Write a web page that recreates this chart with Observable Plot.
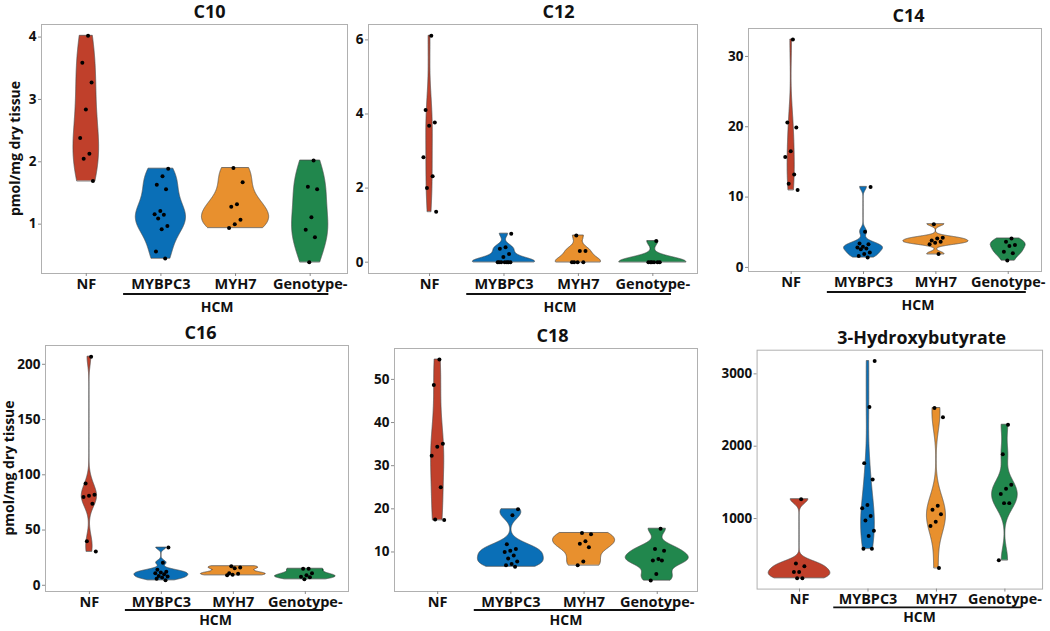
<!DOCTYPE html>
<html>
<head>
<meta charset="utf-8">
<script src="https://cdn.jsdelivr.net/npm/d3@7"></script>
<script src="https://cdn.jsdelivr.net/npm/@observablehq/plot@0.6"></script>
<style>
  html, body { margin: 0; padding: 0; background: #fff; }
  #wrap { position: relative; width: 1050px; height: 631px; overflow: hidden; background: #fff; }
  .panel { position: absolute; }
  .panel svg { overflow: visible; }
  svg g[aria-label="y-axis tick"], svg g[aria-label="x-axis tick"] { stroke: #8c8c8c; }
</style>
</head>
<body>
<div id="wrap"></div>
<script>
// ---------------- data ----------------
const groups = ["NF", "MYBPC3", "MYH7", "Genotype-"];
const groupColors = ["#c0402b", "#0a6fb7", "#e8902e", "#21874d"];
const bracketLabel = "HCM";
const yAxisLabel = "pmol/mg dry tissue";
const titles = ["C10", "C12", "C14", "C16", "C18", "3-Hydroxybutyrate"];
const yTicks = [
  [1, 2, 3, 4],
  [0, 2, 4, 6],
  [0, 10, 20, 30],
  [0, 50, 100, 150, 200],
  [10, 20, 30, 40, 50],
  [1000, 2000, 3000]
];

// values per group: NF, MYBPC3, MYH7, Genotype-
const C10 = [
  [4.02, 3.59, 3.27, 2.84, 2.38, 2.13, 2.05, 1.69],
  [1.89, 1.77, 1.63, 1.56, 1.21, 1.16, 1.15, 1.09, 0.97, 0.92, 0.56, 0.45],
  [1.90, 1.67, 1.32, 1.28, 1.07, 1.00, 0.94],
  [2.02, 1.60, 1.56, 1.11, 0.91, 0.79, 0.39]
];
const C12 = [
  [6.11, 4.11, 3.77, 3.68, 2.83, 2.32, 2.00, 1.36],
  [0.77, 0.40, 0.36, 0.22, 0.14, 0, 0, 0, 0, 0, 0, 0],
  [0.72, 0.30, 0.30, 0, 0, 0, 0],
  [0.57, 0, 0, 0, 0, 0, 0]
];
const C14 = [
  [32.4, 20.6, 19.9, 16.5, 15.7, 13.2, 11.9, 11.0],
  [11.45, 5.06, 3.41, 3.31, 2.93, 2.84, 2.7, 2.6, 2.13, 1.89, 1.61, 1.42],
  [6.15, 4.21, 4.12, 3.83, 3.64, 3.5, 3.31, 1.89],
  [4.12, 3.64, 3.17, 3.03, 2.22, 2.03, 0.99]
];
const C16 = [
  [206.9, 92.1, 81.9, 81.0, 79.8, 73.8, 39.8, 30.5],
  [34.1, 20.3, 14.1, 12.3, 11.5, 11, 10, 8.5, 8, 7, 6, 4.5],
  [17.3, 16, 15.5, 11, 10.5, 9.5, 9],
  [15, 15, 10.8, 9, 7.8, 7.2, 5.4]
];
const C18 = [
  [54.6, 48.7, 35.1, 34.4, 32.3, 25.0, 17.5, 17.4],
  [19.9, 18.5, 11.8, 10.7, 10.3, 10.0, 9.2, 8.5, 7.8, 7.2, 6.9, 6.6],
  [14.4, 14.1, 12.5, 11.9, 11.1, 7.8, 6.9],
  [15.4, 10.7, 10.3, 8.4, 8.0, 8.0, 4.9, 3.4]
];
const HB3 = [
  [1268, 379, 342, 261, 261, 175, 175],
  [3177, 2542, 1766, 1540, 1186, 1141, 1036, 973, 832, 760, 583, 583],
  [2528, 2401, 1177, 1122, 1059, 955, 896, 315],
  [2297, 1889, 1467, 1413, 1340, 1213, 1213, 424]
];
const panelValues = [C10, C12, C14, C16, C18, HB3];

// ---------------- layout (style only) ----------------
// frame box [x0, x1, y0, y1] on page, x-domain [lo, hi], title center x on page, y label x
const layout = [
  {box: [41, 347, 24, 273], dom: [0.40, 4.50], titleX: 209, yLab: 15, lineDy: 21, hcmDy: 39},
  {box: [368, 697, 24, 273], dom: [0.18, 4.60], titleX: 558, lineDy: 21, hcmDy: 39},
  {box: [748, 1041, 28, 271], dom: [0.41, 4.46], titleX: 908, lineDy: 21, hcmDy: 39},
  {box: [45, 348, 345, 591], dom: [0.39, 4.60], titleX: 200, yLab: 9.5, lineDy: 19, hcmDy: 34},
  {box: [394, 697, 348, 591], dom: [0.41, 4.55], titleX: 552, lineDy: 19, hcmDy: 34},
  {box: [757, 1045, 350, 591], dom: [0.38, 4.55], titleX: 923, lineDy: 19, hcmDy: 34}
];

// ---------------- helpers: ggplot-like violin ----------------
function q7(s, p) {
  const h = (s.length - 1) * p, lo = Math.floor(h), hi = Math.min(lo + 1, s.length - 1);
  return s[lo] + (h - lo) * (s[hi] - s[lo]);
}
function bwNrd0(x) {
  const s = [...x].sort((a, b) => a - b);
  const hi = d3.deviation(x);
  let lo = Math.min(hi, (q7(s, 0.75) - q7(s, 0.25)) / 1.34);
  if (!(lo > 0)) lo = hi || Math.abs(s[0]) || 1;
  return 0.9 * lo * Math.pow(x.length, -0.2);
}
function density(x, n = 512) {
  const bw = bwNrd0(x);
  const mn = d3.min(x), mx = d3.max(x);
  const out = [];
  const k = 1 / (x.length * bw * Math.sqrt(2 * Math.PI));
  for (let i = 0; i < n; i++) {
    const y = mn + (mx - mn) * i / (n - 1);
    let s = 0;
    for (const v of x) { const u = (y - v) / bw; s += Math.exp(-0.5 * u * u); }
    out.push({y, d: s * k});
  }
  return out;
}
function jitter(i, g) {
  return ((((i + 1) * 0.6180339887 + g * 0.37) % 1) - 0.5) * 0.2;
}

// ---------------- draw ----------------
const wrap = document.getElementById("wrap");
const mL = 48, mR = 8, mT = 34, mB = 44;
const FONT = "'Open Sans', 'DejaVu Sans', sans-serif";

panelValues.forEach((vals, p) => {
  const L = layout[p];
  const [x0, x1, y0, y1] = L.box;
  const W = x1 - x0 + mL + mR, H = y1 - y0 + mT + mB;

  const dens = vals.map(v => density(v));
  const maxD = d3.max(dens.flat(), r => r.d);
  const violinRows = [];
  dens.forEach((arr, g) => arr.forEach(r => {
    const hw = 0.45 * r.d / maxD;
    violinRows.push({group: groups[g], y: r.y, x1: g + 1 - hw, x2: g + 1 + hw});
  }));
  const pointRows = [];
  vals.forEach((arr, g) => arr.forEach((v, i) => pointRows.push({x: g + 1 + jitter(i, g), y: v})));

  const all = vals.flat();
  const ymin = d3.min(all), ymax = d3.max(all), pad = (ymax - ymin) * 0.05;

  const plot = Plot.plot({
    width: W, height: H,
    marginLeft: mL, marginRight: mR, marginTop: mT, marginBottom: mB,
    x: {domain: L.dom, axis: null},
    y: {domain: [ymin - pad, ymax + pad], axis: null},
    color: {domain: groups, range: groupColors},
    style: {fontFamily: FONT, fontWeight: "bold", color: "#111", background: "transparent"},
    marks: [
      Plot.frame({stroke: "#b0b0b0", strokeWidth: 1}),
      Plot.axisY(yTicks[p], {label: null, tickSize: 3, tickPadding: 2, tickFormat: d => String(d), fontSize: 13.5, fontWeight: "bold"}),
      Plot.axisX([1, 2, 3, 4], {label: null, tickSize: 3, tickPadding: 2, tickFormat: d => groups[d - 1], fontSize: 14.5, fontWeight: "bold"}),
      Plot.areaX(violinRows, {y: "y", x1: "x1", x2: "x2", z: "group", fill: "group", stroke: "#4a4a4a", strokeWidth: 0.7}),
      Plot.dot(pointRows, {x: "x", y: "y", r: 2, fill: "#000", stroke: "none"}),
      Plot.text([titles[p]], {frameAnchor: "top", lineAnchor: "middle", dx: L.titleX - (x0 + x1) / 2, dy: -12, fontSize: 18, fontWeight: "bold"})
    ]
  });

  const sx = plot.scale("x");
  const svg = d3.select(plot);
  const fb = H - mB;
  const g = svg.append("g");
  g.append("line")
    .attr("x1", sx.apply(1.5)).attr("x2", sx.apply(4.25))
    .attr("y1", fb + L.lineDy).attr("y2", fb + L.lineDy)
    .attr("stroke", "#111").attr("stroke-width", 1.8);
  g.append("text")
    .attr("x", (sx.apply(2) + sx.apply(4)) / 2 - 0.24 * (sx.apply(2) - sx.apply(1)))
    .attr("y", fb + L.hcmDy)
    .attr("text-anchor", "middle")
    .attr("font-family", FONT)
    .attr("font-size", 14).attr("font-weight", "bold").attr("fill", "#111")
    .text(bracketLabel);
  if (L.yLab !== undefined) {
    const lx = L.yLab - (x0 - mL);
    const ly = mT + (y1 - y0) / 2;
    g.append("text")
      .attr("transform", `translate(${lx},${ly}) rotate(-90)`)
      .attr("text-anchor", "middle").attr("dy", "0.35em")
      .attr("font-family", FONT)
      .attr("font-size", 14).attr("font-weight", "bold").attr("fill", "#111")
      .text(yAxisLabel);
  }

  const div = document.createElement("div");
  div.className = "panel";
  div.style.left = (x0 - mL) + "px";
  div.style.top = (y0 - mT) + "px";
  div.appendChild(plot);
  wrap.appendChild(div);
});
</script>
</body>
</html>
